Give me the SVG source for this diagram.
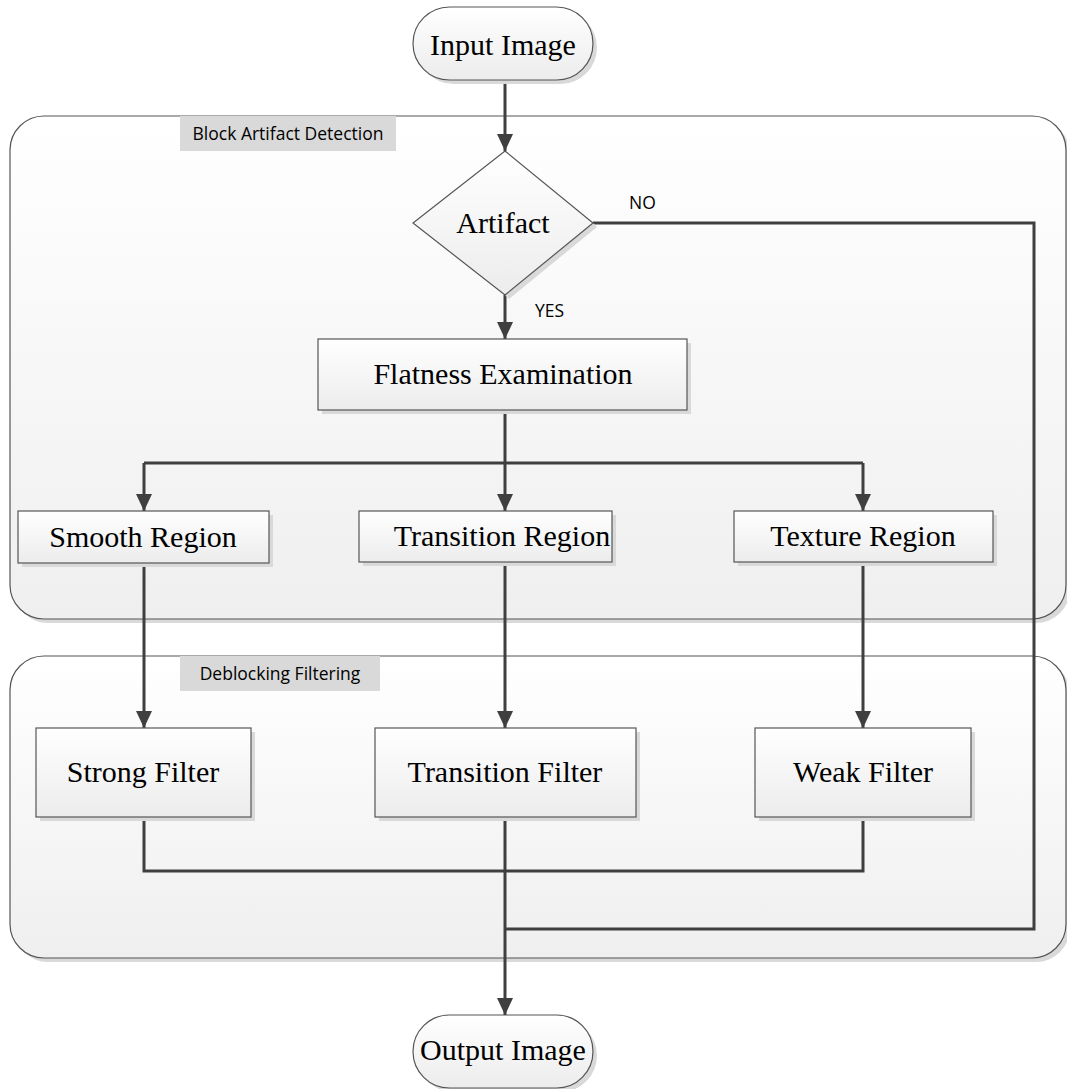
<svg xmlns="http://www.w3.org/2000/svg" width="1067" height="1089" viewBox="0 0 1067 1089">
<defs>
<linearGradient id="gCont" x1="0" y1="0" x2="0" y2="1">
<stop offset="0" stop-color="#ffffff"/>
<stop offset="1" stop-color="#efefef"/>
</linearGradient>
<linearGradient id="gNode" x1="0" y1="0" x2="0" y2="1">
<stop offset="0" stop-color="#ffffff"/>
<stop offset="1" stop-color="#ececec"/>
</linearGradient>
<marker id="arrDown" markerUnits="userSpaceOnUse" markerWidth="16" markerHeight="17" refX="8" refY="17" orient="0" viewBox="0 0 16 17">
<path d="M0,0 L16,0 L8,17 Z" fill="#3f3f3f"/>
</marker>
</defs>
<style>
.cont{fill:url(#gCont);stroke:#555;stroke-width:1.2}
.shadow{fill:#d9d9d9}
.node{fill:url(#gNode);stroke:#555;stroke-width:1.2}
.lbl{fill:#d9d9d9}
.t{font-family:"Liberation Serif","Times New Roman",serif;font-size:30px;fill:#000;text-anchor:middle}
.s{font-family:"Open Sans","Noto Sans",sans-serif;font-size:17.5px;fill:#000}
.c{fill:none;stroke:#3f3f3f;stroke-width:3}
</style>

<g id="container-detection">
<rect class="shadow" x="14" y="120" width="1056" height="503" rx="34"/>
<rect class="cont" x="10" y="116" width="1056" height="503" rx="34"/>
<rect class="lbl" x="180" y="116" width="216" height="35"/>
<text class="s" x="288" y="140" text-anchor="middle">Block Artifact Detection</text>
</g>
<g id="container-filtering">
<rect class="shadow" x="14" y="660" width="1056" height="302" rx="34"/>
<rect class="cont" x="10" y="656" width="1056" height="302" rx="34"/>
<rect class="lbl" x="180" y="656" width="200" height="35"/>
<text class="s" x="280" y="680" text-anchor="middle">Deblocking Filtering</text>
</g>

<g id="connectors">
<path class="c" d="M505,80 V151" marker-end="url(#arrDown)"/>
<path class="c" d="M505,295 V339" marker-end="url(#arrDown)"/>
<path class="c" d="M505,410 V463"/>
<path class="c" d="M144,463 H863"/>
<path class="c" d="M144,463 V511" marker-end="url(#arrDown)"/>
<path class="c" d="M505,463 V511" marker-end="url(#arrDown)"/>
<path class="c" d="M863,463 V511" marker-end="url(#arrDown)"/>
<path class="c" d="M144,563 V728" marker-end="url(#arrDown)"/>
<path class="c" d="M505,562 V728" marker-end="url(#arrDown)"/>
<path class="c" d="M863,562 V728" marker-end="url(#arrDown)"/>
<path class="c" d="M144,817 V871 H863 V817"/>
<path class="c" d="M505,817 V1015" marker-end="url(#arrDown)"/>
<path class="c" d="M593,223 H1034 V929 H505"/>
<text class="s" x="629" y="209">NO</text>
<text class="s" x="535" y="317">YES</text>
</g>

<g id="input-image">
<rect class="shadow" x="417" y="11" width="180" height="73" rx="36.5"/>
<rect class="node" x="413" y="7" width="180" height="73" rx="36.5"/>
<text class="t" x="503" y="55">Input Image</text>
</g>

<g id="artifact">
<polygon class="shadow" points="597,227 509,299 505,295 593,223"/>
<polygon class="node" points="505,151 593,223 505,295 413,223"/>
<text class="t" x="503" y="233">Artifact</text>
</g>

<g id="flatness">
<rect class="shadow" x="322" y="343" width="369" height="71"/>
<rect class="node" x="318" y="339" width="369" height="71"/>
<text class="t" x="503" y="384">Flatness Examination</text>
</g>

<g id="smooth-region">
<rect class="shadow" x="22" y="515" width="251" height="52"/>
<rect class="node" x="18" y="511" width="251" height="52"/>
<text class="t" x="143" y="547">Smooth Region</text>
</g>

<g id="transition-region">
<rect class="shadow" x="363" y="515" width="253" height="51"/>
<rect class="node" x="359" y="511" width="253" height="51"/>
<text class="t" x="502" y="546">Transition Region</text>
</g>

<g id="texture-region">
<rect class="shadow" x="738" y="515" width="259" height="51"/>
<rect class="node" x="734" y="511" width="259" height="51"/>
<text class="t" x="863" y="546">Texture Region</text>
</g>

<g id="strong-filter">
<rect class="shadow" x="40" y="732" width="215" height="89"/>
<rect class="node" x="36" y="728" width="215" height="89"/>
<text class="t" x="143" y="782">Strong Filter</text>
</g>

<g id="transition-filter">
<rect class="shadow" x="379" y="732" width="261" height="89"/>
<rect class="node" x="375" y="728" width="261" height="89"/>
<text class="t" x="505" y="782">Transition Filter</text>
</g>

<g id="weak-filter">
<rect class="shadow" x="759" y="732" width="216" height="89"/>
<rect class="node" x="755" y="728" width="216" height="89"/>
<text class="t" x="863" y="782">Weak Filter</text>
</g>

<g id="output-image">
<rect class="shadow" x="417" y="1019" width="180" height="73" rx="36.5"/>
<rect class="node" x="413" y="1015" width="180" height="73" rx="36.5"/>
<text class="t" x="503" y="1060">Output Image</text>
</g>
</svg>
